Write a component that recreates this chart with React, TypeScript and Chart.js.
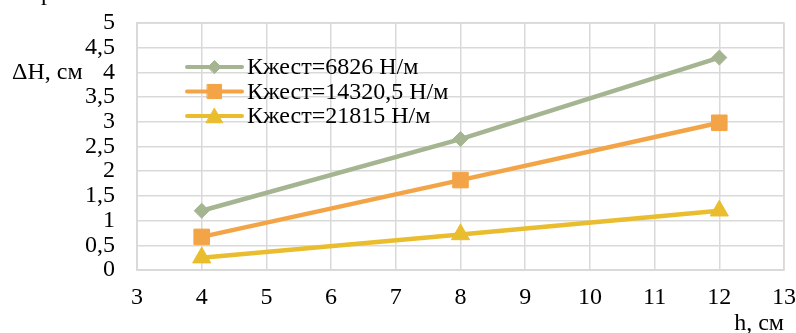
import React, { useEffect, useRef } from "react";
import { Chart, registerables } from "chart.js";
import { drawPoint } from "chart.js/helpers";

Chart.register(...registerables);

// Displacement of the spring versus height, for three stiffness values
const heights = [4, 8, 12];
const soft = [1.2, 2.65, 4.3];
const medium = [0.67, 1.82, 2.98];
const stiff = [0.25, 0.72, 1.2];

const seriesNames = ["Кжест=6826 Н/м", "Кжест=14320,5 Н/м", "Кжест=21815 Н/м"];
const seriesColors = ["#a5b591", "#f3a447", "#e9bd2d"];

const xLabel = "h, см";
const yLabel = "ΔH, см";
const titleFragment = "р";

const FONT = "'Liberation Serif', 'Times New Roman', serif";
const FONT_SIZE = 24;

const toPoints = (ys: number[]) => heights.map((x, i) => ({ x, y: ys[i] }));

const markerStyles = ["rectRot", "rect", "triangle"] as const;
const markerRadius = [7.5, 11, 10.5];
const legendRadius = [6.5, 10, 9.5];

// keep the plot box where the layout padding puts it, regardless of tick label overhang
const zeroPadding = (scale: any) => {
  scale.paddingLeft = 0;
  scale.paddingRight = 0;
  scale.paddingTop = 0;
  scale.paddingBottom = 0;
};

const decorPlugin = {
  id: "decor",
  afterDraw(chart: any) {
    const ctx = chart.ctx;
    const area = chart.chartArea;
    const yScale = chart.scales.y;
    ctx.save();
    ctx.fillStyle = "#000";
    ctx.font = `${FONT_SIZE}px ${FONT}`;
    // axis captions
    ctx.textAlign = "left";
    ctx.textBaseline = "middle";
    ctx.fillText(yLabel, 12, yScale.getPixelForValue(4));
    ctx.textAlign = "right";
    ctx.fillText(xLabel, area.right, 324);
    // top caption, clipped by the canvas edge
    ctx.textAlign = "left";
    ctx.textBaseline = "alphabetic";
    ctx.fillText(titleFragment, 41, -0.5);

    // legend: line sample with marker, then label
    const rows = [67, 91.5, 116];
    const lx0 = 187;
    const lx1 = 242;
    chart.data.datasets.forEach((ds: any, i: number) => {
      const y = rows[i];
      ctx.strokeStyle = ds.borderColor;
      ctx.lineWidth = 4;
      ctx.lineCap = "round";
      ctx.beginPath();
      ctx.moveTo(lx0, y);
      ctx.lineTo(lx1, y);
      ctx.stroke();
      ctx.fillStyle = ds.pointBackgroundColor;
      ctx.strokeStyle = ds.pointBorderColor;
      ctx.lineWidth = 1;
      drawPoint(
        ctx,
        { pointStyle: ds.pointStyle, radius: legendRadius[i], rotation: 0, borderWidth: 1 },
        (lx0 + lx1) / 2,
        i === 2 ? y + 2 : y
      );
      ctx.fillStyle = "#000";
      ctx.font = `${FONT_SIZE}px ${FONT}`;
      ctx.textAlign = "left";
      ctx.textBaseline = "middle";
      ctx.fillText(ds.label, 247, y + 1);
    });
    ctx.restore();
  },
};

export default function App() {
  const canvasRef = useRef<HTMLCanvasElement | null>(null);

  useEffect(() => {
    document.body.style.margin = "0";
    const canvas = canvasRef.current;
    if (!canvas) return;
    const seriesValues = [soft, medium, stiff];
    const chart = new Chart(canvas, {
      type: "line",
      data: {
        datasets: seriesValues.map((vals, i) => ({
          label: seriesNames[i],
          data: toPoints(vals),
          borderColor: seriesColors[i],
          backgroundColor: seriesColors[i],
          pointBackgroundColor: seriesColors[i],
          pointBorderColor: seriesColors[i],
          pointBorderWidth: 1,
          pointStyle: markerStyles[i],
          pointRadius: markerRadius[i],
          borderWidth: 4.5,
          tension: 0,
          fill: false,
        })),
      },
      options: {
        animation: false,
        responsive: false,
        devicePixelRatio: 1,
        layout: { padding: { left: 0, right: 11, top: 23, bottom: 0 } },
        plugins: {
          legend: { display: false },
          tooltip: { enabled: false },
        },
        scales: {
          x: {
            type: "linear",
            min: 3,
            max: 13,
            ticks: {
              stepSize: 1,
              autoSkip: false,
              maxRotation: 0,
              color: "#000",
              font: { family: FONT, size: FONT_SIZE },
              padding: 13.5,
            },
            grid: { color: "#d9d9d9", lineWidth: 1.5, drawTicks: false },
            border: { display: true, color: "#d9d9d9", width: 1.5 },
            afterFit: (scale: any) => {
              scale.height = 63;
              zeroPadding(scale);
            },
          },
          y: {
            type: "linear",
            min: 0,
            max: 5,
            ticks: {
              stepSize: 0.5,
              autoSkip: false,
              color: "#000",
              font: { family: FONT, size: FONT_SIZE },
              padding: 22,
              callback: (v: any) => String(v).replace(".", ","),
            },
            grid: { color: "#d9d9d9", lineWidth: 1.5, drawTicks: false },
            border: { display: true, color: "#d9d9d9", width: 1.5 },
            afterFit: (scale: any) => {
              scale.width = 137;
              zeroPadding(scale);
            },
          },
        },
      },
      plugins: [
        decorPlugin,
        {
          id: "frame",
          beforeDatasetsDraw(chart: any) {
            const { ctx, chartArea: a } = chart;
            ctx.save();
            ctx.strokeStyle = "#d9d9d9";
            ctx.lineWidth = 1.5;
            ctx.strokeRect(a.left, a.top, a.right - a.left, a.bottom - a.top);
            ctx.restore();
          },
        },
      ],
    } as any);
    return () => chart.destroy();
  }, []);

  return (
    <div style={{ position: "fixed", left: 0, top: 0, width: 796, height: 333 }}>
      <canvas ref={canvasRef} width={796} height={333} style={{ width: 796, height: 333 }} />
    </div>
  );
}
